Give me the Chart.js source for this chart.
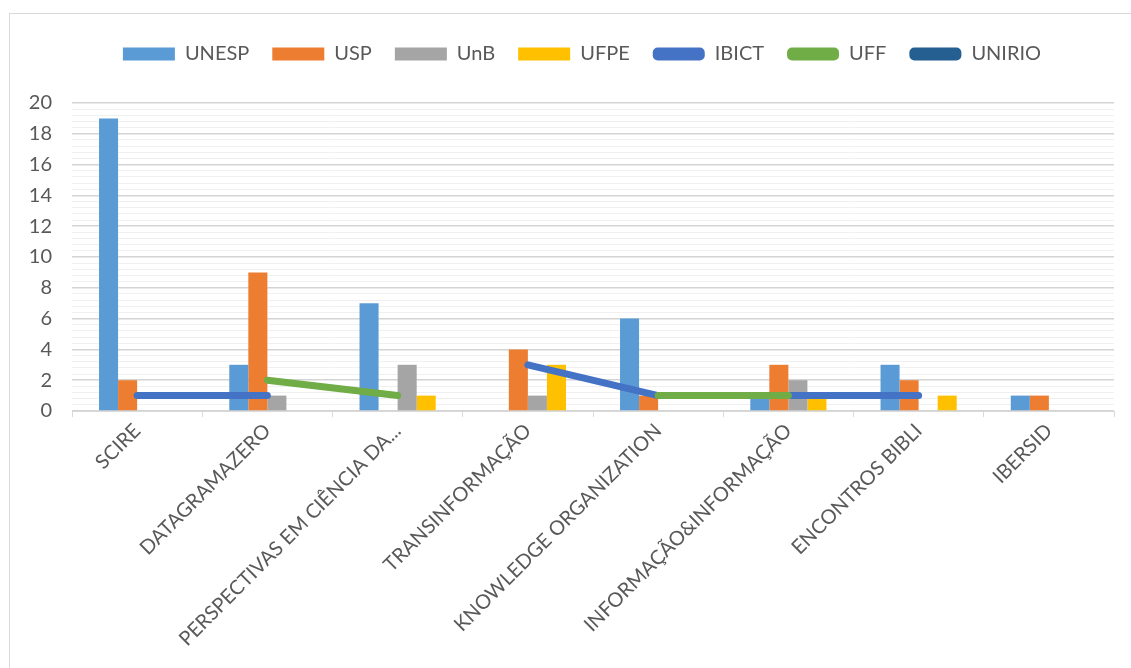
<!DOCTYPE html>
<html>
<head>
<meta charset="utf-8">
<script src="https://cdn.jsdelivr.net/npm/chart.js@4/dist/chart.umd.min.js"></script>
<style>
  html, body { margin: 0; padding: 0; background: #fff; overflow: hidden; }
  #frame { position: absolute; left: 9px; top: 13px; width: 1300px; height: 900px; border: 1px solid #d9d9d9; }
  #chart { position: absolute; left: 0; top: 0; }
</style>
</head>
<body>
<div id="frame"></div>
<canvas id="chart" width="1131" height="668"></canvas>
<script>
const categories = ['SCIRE', 'DATAGRAMAZERO', 'PERSPECTIVAS EM CIÊNCIA DA...', 'TRANSINFORMAÇÃO',
  'KNOWLEDGE ORGANIZATION', 'INFORMAÇÃO&INFORMAÇÃO', 'ENCONTROS BIBLI', 'IBERSID']

// barras
const unesp = [19, 3, 7, 0, 6, 1, 3, 1]
const usp = [2, 9, 0, 4, 1, 3, 2, 1]
const unb = [0, 1, 3, 1, 0, 2, 0, 0]
const ufpe = [0, 0, 1, 3, 0, 1, 1, 0]

// linhas
const ibict = [1, 1, null, 3, 1, 1, 1, null]
const uff = [null, 2, 1, null, 1, 1, null, null]
const unirio = [null, null, null, null, null, null, null, null]

const textColor = '#595959'
const font = 'Lato, "Open Sans", sans-serif'

function bar (label, data, color) {
  return {
    type: 'bar',
    label: label,
    data: data,
    backgroundColor: color,
    borderWidth: 0,
    categoryPercentage: 0.585,
    barPercentage: 1,
    order: 3
  }
}

function line (label, data, color, order) {
  return {
    type: 'line',
    label: label,
    data: data,
    borderColor: color,
    backgroundColor: color,
    borderWidth: 7,
    borderCapStyle: 'round',
    borderJoinStyle: 'round',
    pointRadius: 0,
    spanGaps: false,
    tension: 0,
    order: order
  }
}

const isMajor = v => Math.abs(v / 2 - Math.round(v / 2)) < 1e-6

// espaço extra entre a legenda e o gráfico, e legenda um pouco à direita
const legendGap = {
  id: 'legendGap',
  beforeUpdate (chart) {
    const lg = chart.legend
    if (lg && !lg._gap) {
      const fit = lg.fit.bind(lg)
      lg.fit = function () { fit(); this.height += 29 }
      lg._gap = true
    }
  },
  afterLayout (chart) {
    const lg = chart.legend
    if (lg) {
      lg.left += 15
      lg.right += 15
    }
  }
}

new Chart(document.getElementById('chart'), {
  plugins: [legendGap],
  data: {
    labels: categories,
    datasets: [
      bar('UNESP', unesp, '#5B9BD5'),
      bar('USP', usp, '#ED7D31'),
      bar('UnB', unb, '#A5A5A5'),
      bar('UFPE', ufpe, '#FFC000'),
      line('IBICT', ibict, '#4472C4', 2),
      line('UFF', uff, '#70AD47', 1),
      line('UNIRIO', unirio, '#255E91', 0)
    ]
  },
  options: {
    responsive: false,
    animation: false,
    layout: { padding: { top: 21, right: 17, left: 20, bottom: 0 } },
    plugins: {
      tooltip: { enabled: false },
      legend: {
        position: 'top',
        labels: {
          font: { family: font, size: 20 },
          color: textColor,
          boxWidth: 52,
          boxHeight: 13,
          padding: 23,
          sort: (a, b) => a.datasetIndex - b.datasetIndex,
          generateLabels: function (chart) {
            return chart.data.datasets.map((ds, i) => ({
              text: ds.label,
              fillStyle: ds.type === 'line' ? ds.borderColor : ds.backgroundColor,
              strokeStyle: ds.type === 'line' ? ds.borderColor : ds.backgroundColor,
              lineWidth: 0,
              fontColor: textColor,
              hidden: false,
              datasetIndex: i,
              borderRadius: ds.type === 'line' ? 5 : 0
            }))
          }
        }
      }
    },
    scales: {
      x: {
        grid: {
          drawOnChartArea: false,
          drawTicks: true,
          tickLength: 6,
          color: '#d9d9d9',
          offset: true
        },
        border: { color: '#d9d9d9' },
        ticks: {
          font: { family: font, size: 20 },
          color: textColor,
          maxRotation: 45,
          minRotation: 45,
          autoSkip: false,
          padding: 2
        },
        afterFit: s => { s.height = 257 }
      },
      y: {
        min: 0,
        max: 20,
        border: { display: false },
        grid: {
          drawTicks: false,
          color: ctx => isMajor(ctx.tick.value) ? '#d4d4d4' : '#f0f0f0',
          lineWidth: ctx => isMajor(ctx.tick.value) ? 1.5 : 1
        },
        ticks: {
          stepSize: 0.4,
          maxTicksLimit: 100,
          autoSkip: false,
          font: { family: font, size: 20 },
          color: textColor,
          padding: 20,
          callback: v => isMajor(v) ? String(Math.round(v)) : ''
        },
        afterFit: s => { s.width = 52 }
      }
    }
  }
})
</script>
</body>
</html>
